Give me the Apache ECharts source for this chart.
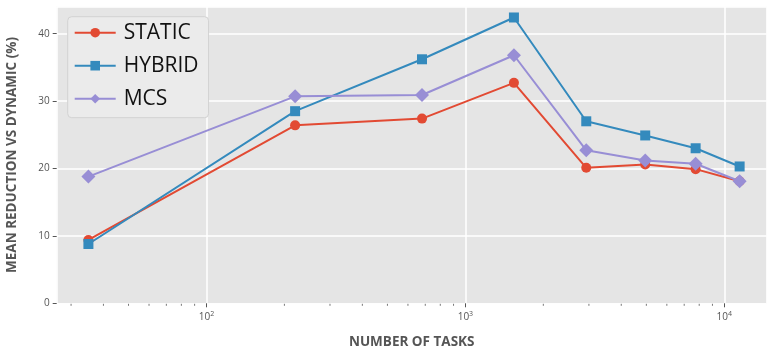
<!DOCTYPE html>
<html>
<head>
<meta charset="utf-8">
<script src="https://cdn.jsdelivr.net/npm/echarts@6/dist/echarts.min.js"></script>
<style>
  html, body { margin: 0; padding: 0; background: #ffffff; }
  #chart { width: 768px; height: 347px; }
</style>
</head>
<body>
<div id="chart"></div>
<script>
// Number of tasks per experiment (log-scaled x axis)
const taskCounts = [35, 220, 680, 1540, 2930, 4950, 7750, 11460];

// Mean reduction vs DYNAMIC, in percent
const staticValues = [9.4, 26.4, 27.4, 32.7, 20.1, 20.6, 19.9, 18.1];
const hybridValues = [8.8, 28.5, 36.2, 42.4, 27.0, 24.9, 23.0, 20.3];
const mcsValues    = [18.8, 30.7, 30.9, 36.8, 22.7, 21.2, 20.7, 18.1];

const seriesNames = ['STATIC', 'HYBRID', 'MCS'];

// Minor tick positions on the log axis
const minorTickValues = [30, 40, 50, 60, 70, 80, 90,
  200, 300, 400, 500, 600, 700, 800, 900,
  2000, 3000, 4000, 5000, 6000, 7000, 8000, 9000];

const FONT = "'Open Sans', 'DejaVu Sans', sans-serif";
const pair = (xs, ys) => xs.map((x, i) => [x, ys[i]]);
const isPow10 = v => Math.abs(Math.log10(v) - Math.round(Math.log10(v))) < 1e-6;

const chart = echarts.init(document.getElementById('chart'), null, { renderer: 'canvas' });

const lineSeries = (name, values, color, symbol, size) => ({
  name: name,
  type: 'line',
  data: pair(taskCounts, values),
  symbol: symbol,
  symbolSize: size,
  showAllSymbol: true,
  lineStyle: { color: color, width: 2 },
  itemStyle: { color: color },
  emphasis: { disabled: true },
  z: 3
});

chart.setOption({
  animation: false,
  backgroundColor: '#ffffff',
  grid: {
    left: 56.7, right: 1.3, top: 6.7, bottom: 43.7,
    outerBoundsMode: 'none',
    containLabel: false,
    show: true, backgroundColor: '#e5e5e5', borderWidth: 0
  },
  legend: {
    data: seriesNames,
    orient: 'vertical',
    left: 67.7, top: 16.7,
    padding: [4, 10, 7, 6],
    itemWidth: 41, itemHeight: 12, itemGap: 9,
    backgroundColor: '#ebebeb',
    borderColor: '#d2d2d2', borderWidth: 1, borderRadius: 4,
    textStyle: { fontFamily: FONT, fontSize: 21, color: '#111', lineHeight: 24, padding: [0, 0, 0, 3] },
    selectedMode: false
  },
  xAxis: {
    type: 'log',
    logBase: 10,
    min: 26.4, max: 14580,
    name: 'NUMBER OF TASKS',
    nameLocation: 'middle',
    nameGap: 32,
    nameTextStyle: { fontFamily: FONT, fontSize: 13.5, fontWeight: 'bold', color: '#555' },
    axisLine: { show: false },
    axisTick: { show: true, length: 4, lineStyle: { color: '#555' },
      interval: (i, v) => isPow10(+v) },
    axisLabel: {
      margin: 7,
      showMinLabel: false, showMaxLabel: false,
      fontFamily: FONT, fontSize: 10, color: '#555',
      formatter: v => isPow10(v) ? '10{sup|' + Math.round(Math.log10(v)) + '}' : '',
      rich: { sup: { fontFamily: FONT, fontSize: 7, color: '#555', verticalAlign: 'top', padding: [0, 0, 6, 0] } }
    },
    splitLine: { show: true, lineStyle: { color: '#ffffff', width: 1.5 } }
  },
  yAxis: {
    type: 'value',
    min: 0, max: 44, interval: 10,
    name: 'MEAN REDUCTION VS DYNAMIC (%)',
    nameLocation: 'middle',
    nameGap: 38,
    nameTextStyle: { fontFamily: FONT, fontSize: 13.5, fontWeight: 'bold', color: '#555' },
    axisLine: { show: false },
    axisTick: { show: true, length: 4, lineStyle: { color: '#555' },
      interval: (i, v) => +v % 10 === 0 },
    axisLabel: { margin: 7, showMaxLabel: false, fontFamily: FONT, fontSize: 10, color: '#555' },
    splitLine: { show: true, lineStyle: { color: '#ffffff', width: 1.5 } }
  },
  series: [
    lineSeries('STATIC', staticValues, '#e24a33', 'circle', 10),
    lineSeries('HYBRID', hybridValues, '#348abd', 'rect', 10),
    lineSeries('MCS', mcsValues, '#988ed5', 'diamond', 14),
    {
      // small outward minor ticks under the x axis
      type: 'custom',
      name: 'minorTicks',
      data: minorTickValues.map(v => [v, 0]),
      clip: false,
      silent: true,
      z: 1,
      renderItem: (params, api) => {
        const p = api.coord([api.value(0), 0]);
        return {
          type: 'line',
          shape: { x1: p[0], y1: p[1] + 0.5, x2: p[0], y2: p[1] + 2.5 },
          style: { stroke: '#777', lineWidth: 1 }
        };
      }
    }
  ]
});
</script>
</body>
</html>
